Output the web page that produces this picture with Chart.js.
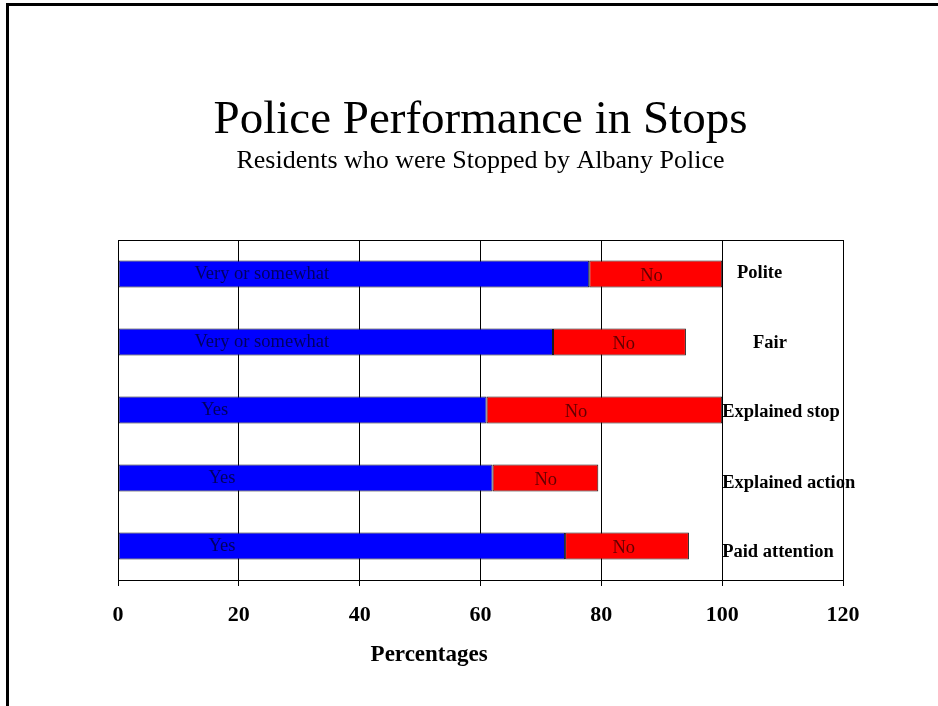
<!DOCTYPE html>
<html>
<head>
<meta charset="utf-8">
<script src="https://cdn.jsdelivr.net/npm/chart.js@4"></script>
<style>
  html, body { margin: 0; padding: 0; background: #fff; }
  #wrap { position: relative; width: 938px; height: 706px; overflow: hidden; }
  #frame { position: absolute; left: 6px; top: 3px; width: 1000px; height: 800px;
           border-left: 3px solid #000; border-top: 3px solid #000; pointer-events: none; }
  canvas { position: absolute; left: 0; top: 0; }
</style>
</head>
<body>
<div id="wrap">
  <canvas id="chart" width="938" height="706"></canvas>
  <div id="frame"></div>
</div>
<script>
// Survey items (one bar per item, top to bottom)
const categories = ['Polite', 'Fair', 'Explained stop', 'Explained action', 'Paid attention'];
// Share answering positively, and share answering "No" (percent)
const positiveShare = [78, 72, 61, 62, 74];
const negativeShare = [22, 22, 39, 17.5, 20.5];
// Text printed inside each segment
const positiveText = ['Very or somewhat', 'Very or somewhat', 'Yes', 'Yes', 'Yes'];
const negativeText = ['No', 'No', 'No', 'No', 'No'];
// Axis ticks
const xTicks = [0, 20, 40, 60, 80, 100, 120];

const SERIF = "'Liberation Serif', 'Times New Roman', serif";

// Where each in-bar caption sits along the value axis
const captionAnchors = {
  positive: [23.8, 23.8, 16, 17.2, 17.2],
  negative: [88.3, 83.7, 75.8, 70.8, 83.7]
};
// Item names printed in the strip to the right of 100
const itemLabelLayout = [
  { at: 106.2, align: 'center', dy: -1 },
  { at: 107.9, align: 'center', dy: 1 },
  { at: 100,   align: 'left',   dy: 2 },
  { at: 100,   align: 'left',   dy: 5 },
  { at: 100,   align: 'left',   dy: 6 }
];

const annotations = {
  id: 'annotations',
  afterDatasetsDraw(chart) {
    const { ctx, chartArea, scales } = chart;
    const xs = scales.x;
    ctx.save();
    // plot frame
    ctx.strokeStyle = '#000';
    ctx.lineWidth = 1;
    ctx.strokeRect(Math.round(chartArea.left) + 0.5, Math.round(chartArea.top) + 0.5,
                   Math.round(chartArea.right - chartArea.left),
                   Math.round(chartArea.bottom - chartArea.top));

    const metaPos = chart.getDatasetMeta(0);
    const metaNeg = chart.getDatasetMeta(1);
    ctx.textBaseline = 'middle';
    ctx.font = '18.5px ' + SERIF;
    ctx.fillStyle = 'rgba(0,0,0,0.62)';
    ctx.textAlign = 'center';
    metaPos.data.forEach((bar, i) => {
      ctx.fillText(positiveText[i], xs.getPixelForValue(captionAnchors.positive[i]), bar.y);
    });
    metaNeg.data.forEach((bar, i) => {
      ctx.fillText(negativeText[i], xs.getPixelForValue(captionAnchors.negative[i]), bar.y + 2);
    });

    // item names
    ctx.fillStyle = '#000';
    ctx.font = 'bold 18.5px ' + SERIF;
    metaPos.data.forEach((bar, i) => {
      const l = itemLabelLayout[i];
      ctx.textAlign = l.align;
      ctx.fillText(categories[i], xs.getPixelForValue(l.at), bar.y + l.dy);
    });

    // axis title
    ctx.font = 'bold 23px ' + SERIF;
    ctx.textAlign = 'center';
    ctx.fillText('Percentages', xs.getPixelForValue(51.5), chartArea.bottom + 75);
    ctx.restore();
  }
};

new Chart(document.getElementById('chart'), {
  type: 'bar',
  data: {
    labels: categories,
    datasets: [
      { label: 'Yes', data: positiveShare, backgroundColor: '#0000ff',
        borderColor: '#1a1a1a', borderWidth: 1, borderSkipped: false },
      { label: 'No', data: negativeShare, backgroundColor: '#ff0000',
        borderColor: '#1a1a1a', borderWidth: 1, borderSkipped: false }
    ]
  },
  options: {
    indexAxis: 'y',
    responsive: false,
    animation: false,
    events: [],
    datasets: { bar: { barPercentage: 0.4, categoryPercentage: 1 } },
    layout: { padding: { top: 0, left: 118, right: 95, bottom: 0 } },
    plugins: {
      legend: { display: false },
      tooltip: { enabled: false },
      title: {
        display: true,
        text: 'Police Performance in Stops',
        color: '#000',
        font: { family: SERIF, size: 47, weight: 'normal', lineHeight: 1.2 },
        padding: { top: 92, bottom: 0 }
      },
      subtitle: {
        display: true,
        text: 'Residents who were Stopped by Albany Police',
        color: '#000',
        font: { family: SERIF, size: 26, weight: 'normal', lineHeight: 1.0 },
        padding: { top: 0, bottom: 65.6 }
      }
    },
    scales: {
      x: {
        type: 'linear',
        stacked: true,
        min: 0,
        max: 120,
        afterBuildTicks(scale) { scale.ticks = xTicks.map(v => ({ value: v })); },
        afterFit(scale) { scale.height = 126; },
        grid: { color: '#000', lineWidth: 1, drawTicks: true, tickLength: 6, tickColor: '#000' },
        border: { display: true, color: '#000', width: 1 },
        ticks: { color: '#000', padding: 16, font: { family: SERIF, size: 22, weight: 'bold' } }
      },
      y: {
        stacked: true,
        display: false
      }
    }
  },
  plugins: [annotations]
});
</script>
</body>
</html>
